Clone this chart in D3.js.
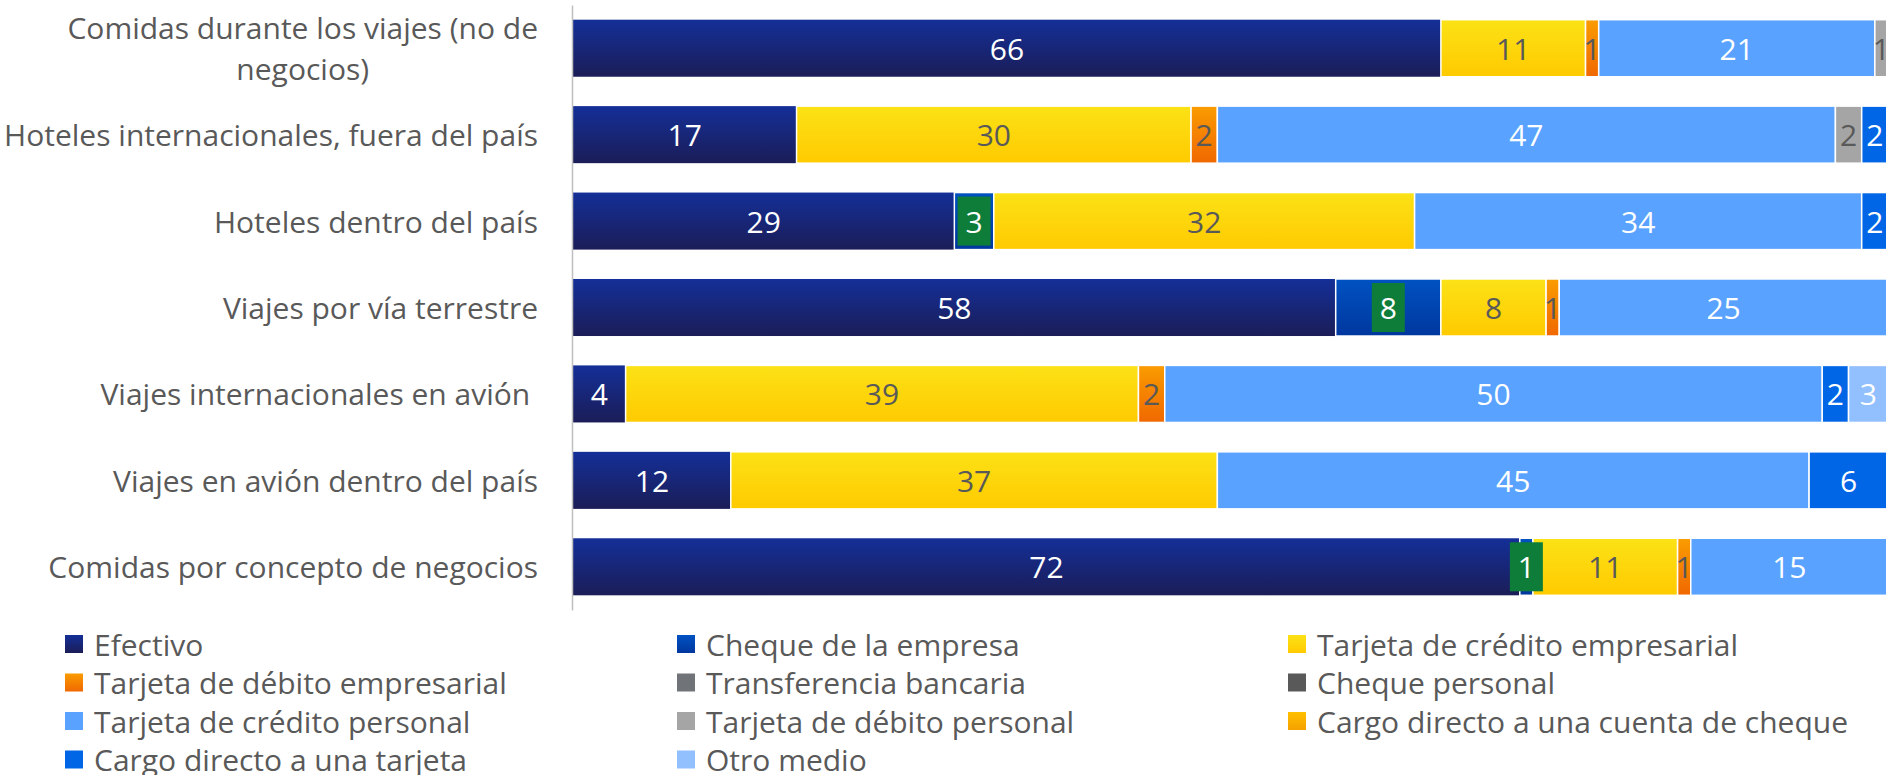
<!DOCTYPE html>
<html>
<head>
<meta charset="utf-8">
<script src="https://cdn.jsdelivr.net/npm/d3@7"></script>
<style>
  html, body { margin: 0; padding: 0; background: #ffffff; }
  svg { display: block; }
  text { font-family: "Open Sans", "Noto Sans", sans-serif; }
</style>
</head>
<body>
<svg id="chart" width="1886" height="775"></svg>
<script>
// ---------------- DATA ----------------
const categories = [
  "Comidas durante los viajes (no de negocios)",
  "Hoteles internacionales, fuera del país",
  "Hoteles dentro del país",
  "Viajes por vía terrestre",
  "Viajes internacionales en avión ",
  "Viajes en avión dentro del país",
  "Comidas por concepto de negocios"
];

const seriesNames = [
  "Efectivo",
  "Cheque de la empresa",
  "Tarjeta de crédito empresarial",
  "Tarjeta de débito empresarial",
  "Transferencia bancaria",
  "Cheque personal",
  "Tarjeta de crédito personal",
  "Tarjeta de débito personal",
  "Cargo directo a una cuenta de cheque",
  "Cargo directo a una tarjeta",
  "Otro medio"
];

const efectivo            = [66, 17, 29, 58,  4, 12, 72];
const chequeEmpresa       = [ 0,  0,  3,  8,  0,  0,  1];
const creditoEmpresarial  = [11, 30, 32,  8, 39, 37, 11];
const debitoEmpresarial   = [ 1,  2,  0,  1,  2,  0,  1];
const transferencia       = [ 0,  0,  0,  0,  0,  0,  0];
const chequePersonal      = [ 0,  0,  0,  0,  0,  0,  0];
const creditoPersonal     = [21, 47, 34, 25, 50, 45, 15];
const debitoPersonal      = [ 1,  2,  0,  0,  0,  0,  0];
const cargoCuentaCheque   = [ 0,  0,  0,  0,  0,  0,  0];
const cargoTarjeta        = [ 0,  2,  2,  0,  2,  6,  0];
const otroMedio           = [ 0,  0,  0,  0,  3,  0,  0];

const seriesValues = [efectivo, chequeEmpresa, creditoEmpresarial, debitoEmpresarial,
  transferencia, chequePersonal, creditoPersonal, debitoPersonal,
  cargoCuentaCheque, cargoTarjeta, otroMedio];

// ---------------- STYLES ----------------
const fills = [
  ["#142f98", "#1b1d57"],  // Efectivo (gradient)
  ["#0052c2", "#00379e"],  // Cheque de la empresa
  ["#fbe216", "#ffca00"],  // Tarjeta de crédito empresarial
  ["#fa9c00", "#f06800"],  // Tarjeta de débito empresarial
  ["#707377", "#707377"],  // Transferencia bancaria
  ["#595959", "#595959"],  // Cheque personal
  ["#59a2ff", "#59a2ff"],  // Tarjeta de crédito personal
  ["#a5a5a5", "#a5a5a5"],  // Tarjeta de débito personal
  ["#ffc000", "#f5a000"],  // Cargo directo a una cuenta de cheque
  ["#0066e6", "#0066e6"],  // Cargo directo a una tarjeta
  ["#92c0ff", "#92c0ff"]   // Otro medio
];
const labelColors = ["#ffffff", "#ffffff", "#595959", "#595959", "#ffffff", "#ffffff",
  "#ffffff", "#595959", "#595959", "#ffffff", "#ffffff"];
const labelBoxes = [null, "#0e7d3a", null, null, null, null, null, null, null, null, null];

const W = 1886, H = 775;
const FS = 30;
const svg = d3.select("#chart");
svg.append("rect").attr("width", W).attr("height", H).attr("fill", "#ffffff");

const defs = svg.append("defs");
fills.forEach((f, i) => {
  const g = defs.append("linearGradient").attr("id", "grad" + i)
    .attr("x1", 0).attr("y1", 0).attr("x2", 0).attr("y2", 1);
  g.append("stop").attr("offset", "0%").attr("stop-color", f[0]);
  g.append("stop").attr("offset", "100%").attr("stop-color", f[1]);
});

// ---------------- SCALES ----------------
const x = d3.scaleLinear().domain([0, 100]).range([573, 1888]);
const y = d3.scaleBand().domain(categories).range([5, 610])
  .paddingInner(0.34).paddingOuter(0.17);

// stacked data
const table = categories.map((c, ci) => {
  const o = { cat: c };
  seriesNames.forEach((s, si) => { o[s] = seriesValues[si][ci]; });
  return o;
});
const stack = d3.stack().keys(seriesNames)(table);

// ---------------- BARS ----------------
const barG = svg.append("g");
stack.forEach((layer, si) => {
  const g = barG.append("g");
  g.selectAll("rect")
    .data(layer.filter(d => d[1] - d[0] > 0))
    .join("rect")
    .attr("x", d => x(d[0]))
    .attr("y", d => y(d.data.cat))
    .attr("width", d => x(d[1]) - x(d[0]))
    .attr("height", y.bandwidth())
    .attr("fill", "url(#grad" + si + ")")
    .attr("stroke", si === 0 ? "none" : "#ffffff")
    .attr("stroke-width", 1.5);
});

// labels
stack.forEach((layer, si) => {
  const g = svg.append("g");
  const data = layer.filter(d => d[1] - d[0] > 0);
  if (labelBoxes[si]) {
    g.selectAll("rect")
      .data(data)
      .join("rect")
      .attr("x", d => (x(d[0]) + x(d[1])) / 2 - 16.5)
      .attr("y", d => y(d.data.cat) + 4)
      .attr("width", 33)
      .attr("height", y.bandwidth() - 8)
      .attr("fill", labelBoxes[si]);
  }
  g.selectAll("text")
    .data(data)
    .join("text")
    .attr("x", d => (x(d[0]) + x(d[1])) / 2)
    .attr("y", d => y(d.data.cat) + y.bandwidth() / 2)
    .attr("text-anchor", "middle")
    .attr("dominant-baseline", "central")
    .attr("font-size", FS)
    .attr("fill", labelColors[si])
    .text(d => d3.format("d")(d[1] - d[0]));
});

// ---------------- AXIS ----------------
const axis = svg.append("g").attr("transform", "translate(572,0)")
  .call(d3.axisLeft(y).tickSize(0).tickFormat(""));
axis.select(".domain").attr("stroke", "#bfbfbf").attr("stroke-width", 1.5);

// category labels with wrapping
const labelRight = 538, maxW = 540, lineH = 41;
const catG = svg.append("g");
categories.forEach(c => {
  const cy = y(c) + y.bandwidth() / 2;
  const t = catG.append("text")
    .attr("font-size", FS).attr("fill", "#595959")
    .style("white-space", "pre");
  const words = c.split(" ");
  const lines = [];
  let cur = "";
  words.forEach(w => {
    const test = cur ? cur + " " + w : w;
    t.text(test);
    if (t.node().getComputedTextLength() > maxW && cur) {
      lines.push(cur); cur = w;
    } else cur = test;
  });
  lines.push(cur);
  t.text(null);
  if (lines.length === 1) {
    t.attr("x", labelRight).attr("y", cy).attr("text-anchor", "end")
      .attr("dominant-baseline", "central").text(lines[0]);
  } else {
    const widths = lines.map(l => { t.text(l); return t.node().getComputedTextLength(); });
    t.text(null);
    const bw = d3.max(widths);
    const cx = labelRight - bw / 2;
    lines.forEach((l, i) => {
      catG.append("text")
        .attr("font-size", FS).attr("fill", "#595959")
        .attr("x", cx)
        .attr("y", cy + (i - (lines.length - 1) / 2) * lineH)
        .attr("text-anchor", "middle")
        .attr("dominant-baseline", "central")
        .text(l);
    });
    t.remove();
  }
});

// ---------------- LEGEND ----------------
const legX = [65, 677, 1288];
const legY0 = 644, legDY = 38.5;
const legG = svg.append("g");
seriesNames.forEach((s, i) => {
  const col = i % 3, row = Math.floor(i / 3);
  const g = legG.append("g")
    .attr("transform", `translate(${legX[col]},${legY0 + row * legDY})`);
  g.append("rect").attr("x", 0).attr("y", -9).attr("width", 18).attr("height", 18)
    .attr("fill", "url(#grad" + i + ")");
  g.append("text").attr("x", 29).attr("y", 0)
    .attr("dominant-baseline", "central")
    .attr("font-size", FS).attr("fill", "#595959").text(s);
});
</script>
</body>
</html>
